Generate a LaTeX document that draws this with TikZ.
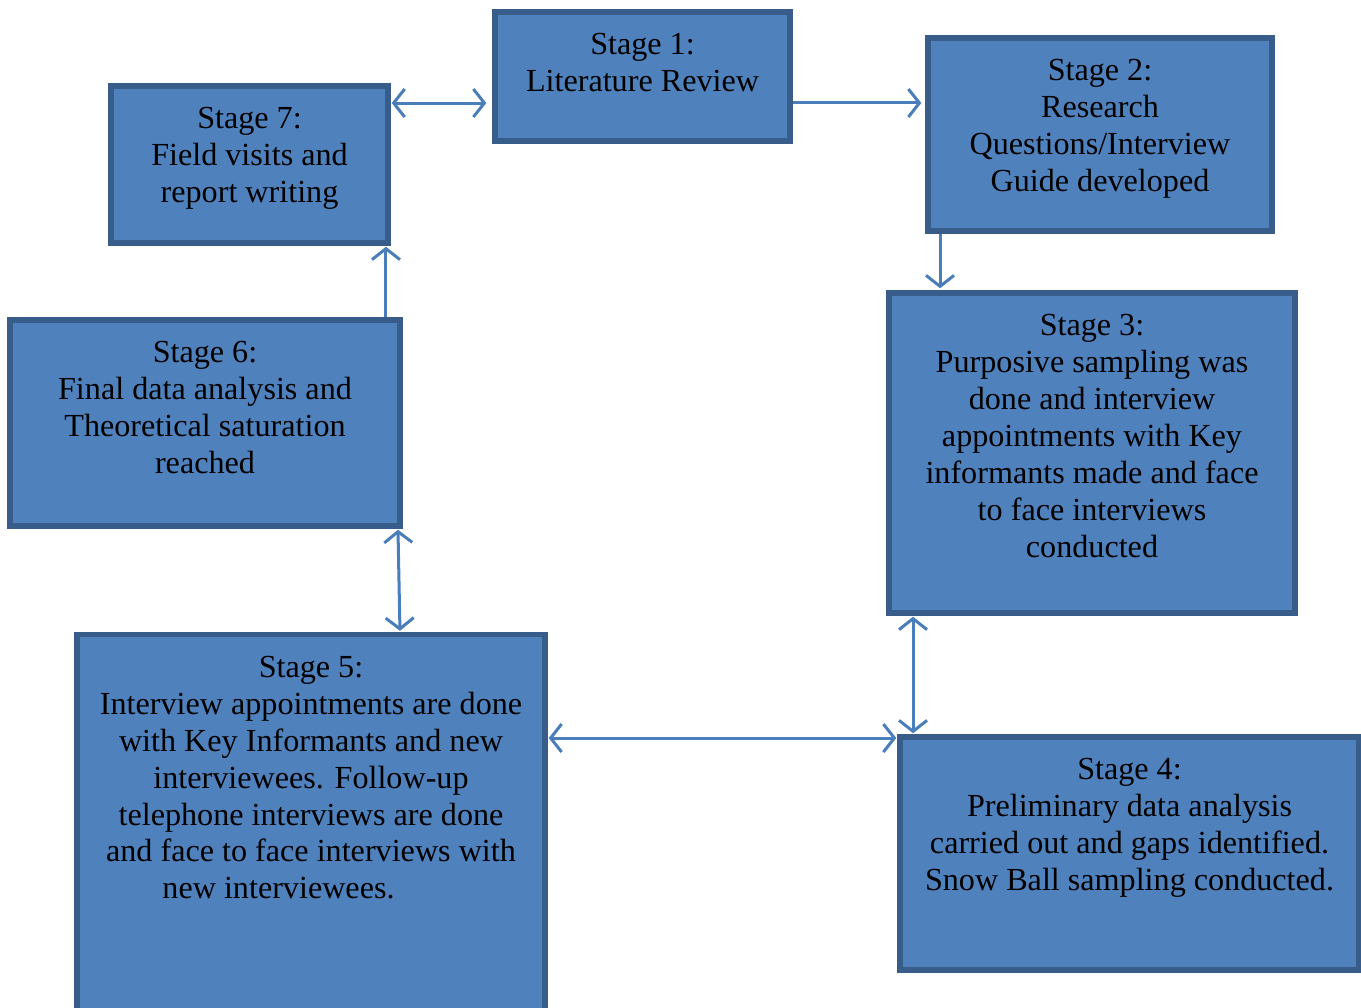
\documentclass[tikz,border=0pt]{standalone}
\usepackage{fontspec}
\setmainfont{Liberation Serif}
\usetikzlibrary{arrows.meta,positioning}
\definecolor{stblue}{HTML}{4F81BD}
\definecolor{stdark}{HTML}{385D8A}
\definecolor{stline}{HTML}{4A7EBB}

\begin{document}
\begin{tikzpicture}[x=0.02cm,y=-0.02cm,
    stage/.style={draw=stdark,line width=1.1mm,fill=stblue,inner sep=0pt},
    stagetxt/.style={inner sep=0pt,align=center,font=\fontsize{18.3}{21}\selectfont},
    flow/.style={-{Straight Barb[length=2.2mm,width=5.6mm,line width=0.6mm]},line width=0.6mm,draw=stline},
    both/.style={{Straight Barb[length=2.2mm,width=5.6mm,line width=0.6mm]}-{Straight Barb[length=2.2mm,width=5.6mm,line width=0.6mm]},line width=0.6mm,draw=stline}
  ]
    \useasboundingbox (0,0) rectangle (1361,1007);
    % boxes
    \node[stage,minimum width=5.9cm,minimum height=2.58cm] (s1) at (642.5,76.5) {};
    \node[stage,minimum width=6.88cm,minimum height=3.86cm] (s2) at (1100,134.5) {};
    \node[stage,minimum width=8.12cm,minimum height=6.4cm] (s3) at (1092,453) {};
    \node[stage,minimum width=9.18cm,minimum height=4.66cm] (s4) at (1129.5,853.5) {};
    \node[stage,minimum width=9.36cm,minimum height=7.9cm] (s5) at (311,832) {};
    \node[stage,minimum width=7.8cm,minimum height=4.12cm] (s6) at (205,423) {};
    \node[stage,minimum width=5.54cm,minimum height=3.14cm] (s7) at (249.5,164.5) {};
    % texts
    \node[stagetxt,below=0.48cm of s1.north] (t1) {Stage 1:\\Literature Review};
    \node[stagetxt,below=0.48cm of s2.north] (t2) {Stage 2:\\Research\\Questions/Interview\\Guide developed};
    \node[stagetxt,below=0.48cm of s3.north] (t3) {Stage 3:\\Purposive sampling was\\done and interview\\appointments with Key\\informants made and face\\to face interviews\\conducted};
    \node[stagetxt,below=0.48cm of s4.north] (t4) {Stage 4:\\Preliminary data analysis\\carried out and gaps identified.\\Snow Ball sampling conducted.};
    \node[stagetxt,below=0.48cm of s5.north] (t5) {Stage 5:\\Interview appointments are done\\with Key Informants and new\\interviewees. Follow-up\\telephone interviews are done\\and face to face interviews with\\new interviewees.\hspace*{1.3cm}};
    \node[stagetxt,below=0.48cm of s6.north] (t6) {Stage 6:\\Final data analysis and\\Theoretical saturation\\reached};
    \node[stagetxt,below=0.48cm of s7.north] (t7) {Stage 7:\\Field visits and\\report writing};
    % connectors
    \draw[both,shorten <=0.2mm,shorten >=1.2mm] ([yshift=1.23cm]s7.east) -- ([yshift=1.23cm]s7.east -| s1.west);
    \draw[flow,shorten >=0.8mm] ([yshift=-0.53cm]s1.east) -- ([yshift=-0.53cm]s1.east -| s2.west);
    \draw[flow,shorten >=0.4mm] ([xshift=-3.2cm]s2.south) -- ([xshift=-3.2cm]s2.south |- s3.north);
    \draw[both,shorten <=0.2mm,shorten >=0.2mm] ([xshift=-3.58cm]s3.south) -- ([xshift=-3.58cm]s3.south |- s4.north);
    \draw[both,shorten <=0.2mm,shorten >=0.2mm] ([yshift=2.31cm]s4.west -| s5.east) -- ([yshift=2.31cm]s4.west);
    \draw[both,shorten <=0.2mm,shorten >=0.2mm] ([xshift=3.86cm]s6.south) -- ([xshift=1.78cm]s5.north);
    \draw[flow,shorten >=0.2mm] ([xshift=3.62cm]s6.north) -- ([xshift=3.62cm]s6.north |- s7.south);
  \end{tikzpicture}
\end{document}
